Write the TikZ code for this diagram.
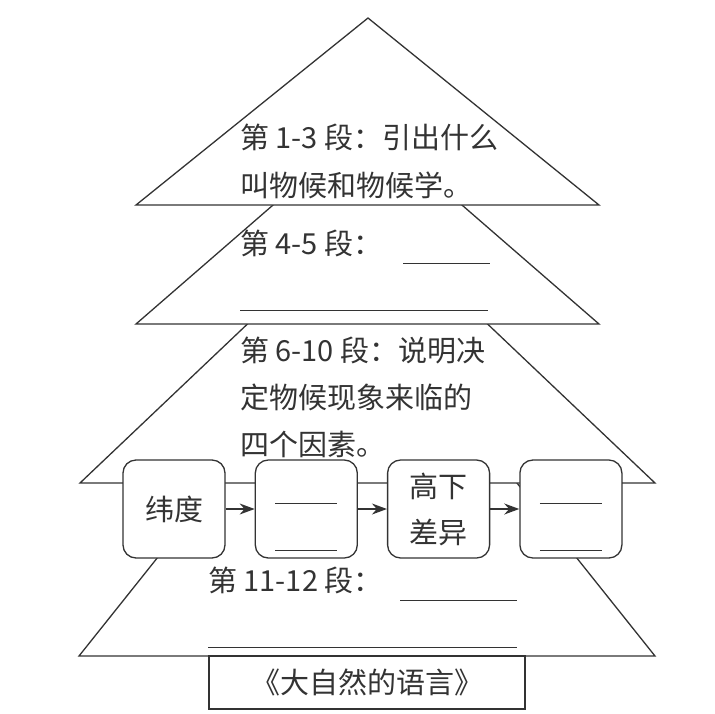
\documentclass[tikz,border=0pt]{standalone}
\usepackage{fontspec}
\newfontfamily\cjk{Noto Sans CJK SC}
\usetikzlibrary{positioning, arrows.meta, calc}
\definecolor{inkgray}{HTML}{333333}

\begin{document}
\begin{tikzpicture}[
    x=1pt, y=-1pt,
    every node/.style={font=\cjk\fontsize{29}{48}\selectfont, text=inkgray, inner sep=0pt},
    tier/.style={draw=inkgray, line width=1.3pt, fill=white},
    stage/.style={draw=inkgray, line width=1.3pt, fill=white, rounded corners=13pt,
      minimum width=102pt, minimum height=98pt, align=center},
    blank/.style={draw=inkgray, line width=1pt},
    >={Stealth[length=15pt, width=11pt]},
  ]
  \useasboundingbox (0,0) rectangle (715,713);

  % pyramid tiers, lowest first
  \filldraw[tier] (79,656) -- (367,295) -- (655,656) -- cycle;
  \filldraw[tier] (80,483) -- (367.5,210) -- (655,483) -- cycle;
  \filldraw[tier] (136,324) -- (367.5,123) -- (599,324) -- cycle;
  \filldraw[tier] (136,205) -- (368,18) -- (599,205) -- cycle;

  \node[anchor=west, align=left] (t1) at (240,161) {第 1-3 段：引出什么\\叫物候和物候学。};
  \node[anchor=west] (t2) at (240,243) {第 4-5 段：};
  \draw[blank] (403,263) -- (490,263);
  \draw[blank] (240,310) -- (488,310);

  \node[anchor=west, align=left, font=\cjk\fontsize{29}{47}\selectfont] (t3) at (240,397)
    {第 6-10 段：说明决\\定物候现象来临的\\四个因素。};

  \node[anchor=west] (t4) at (208,580) {第 11-12 段：};
  \draw[blank] (400,600) -- (517,600);
  \draw[blank] (208,647) -- (517,647);

  % four factors
  \node[stage] (b1) at (174,509) {纬度};
  \node[stage, right=29pt of b1] (b2) {};
  \node[stage, right=29pt of b2, font=\cjk\fontsize{29}{46}\selectfont] (b3) {高下\\差异};
  \node[stage, right=29pt of b3] (b4) {};
  \foreach \b in {b2,b4} {
    \draw[blank] ([xshift=-31pt, yshift=6pt]\b.center) -- ++(62,0);
    \draw[blank] ([xshift=-31pt, yshift=-41pt]\b.center) -- ++(62,0);
  }
  \foreach \a/\b in {b1/b2, b2/b3, b3/b4}
    \draw[->, line width=1.3pt, inkgray] (\a) -- (\b);

  \node[draw=inkgray, line width=1.3pt, fill=white, minimum width=316pt, minimum height=53pt,
    font=\cjk\fontsize{29}{34}\selectfont] (title) at (367,682.5) {《大自然的语言》};
\end{tikzpicture}
\end{document}
